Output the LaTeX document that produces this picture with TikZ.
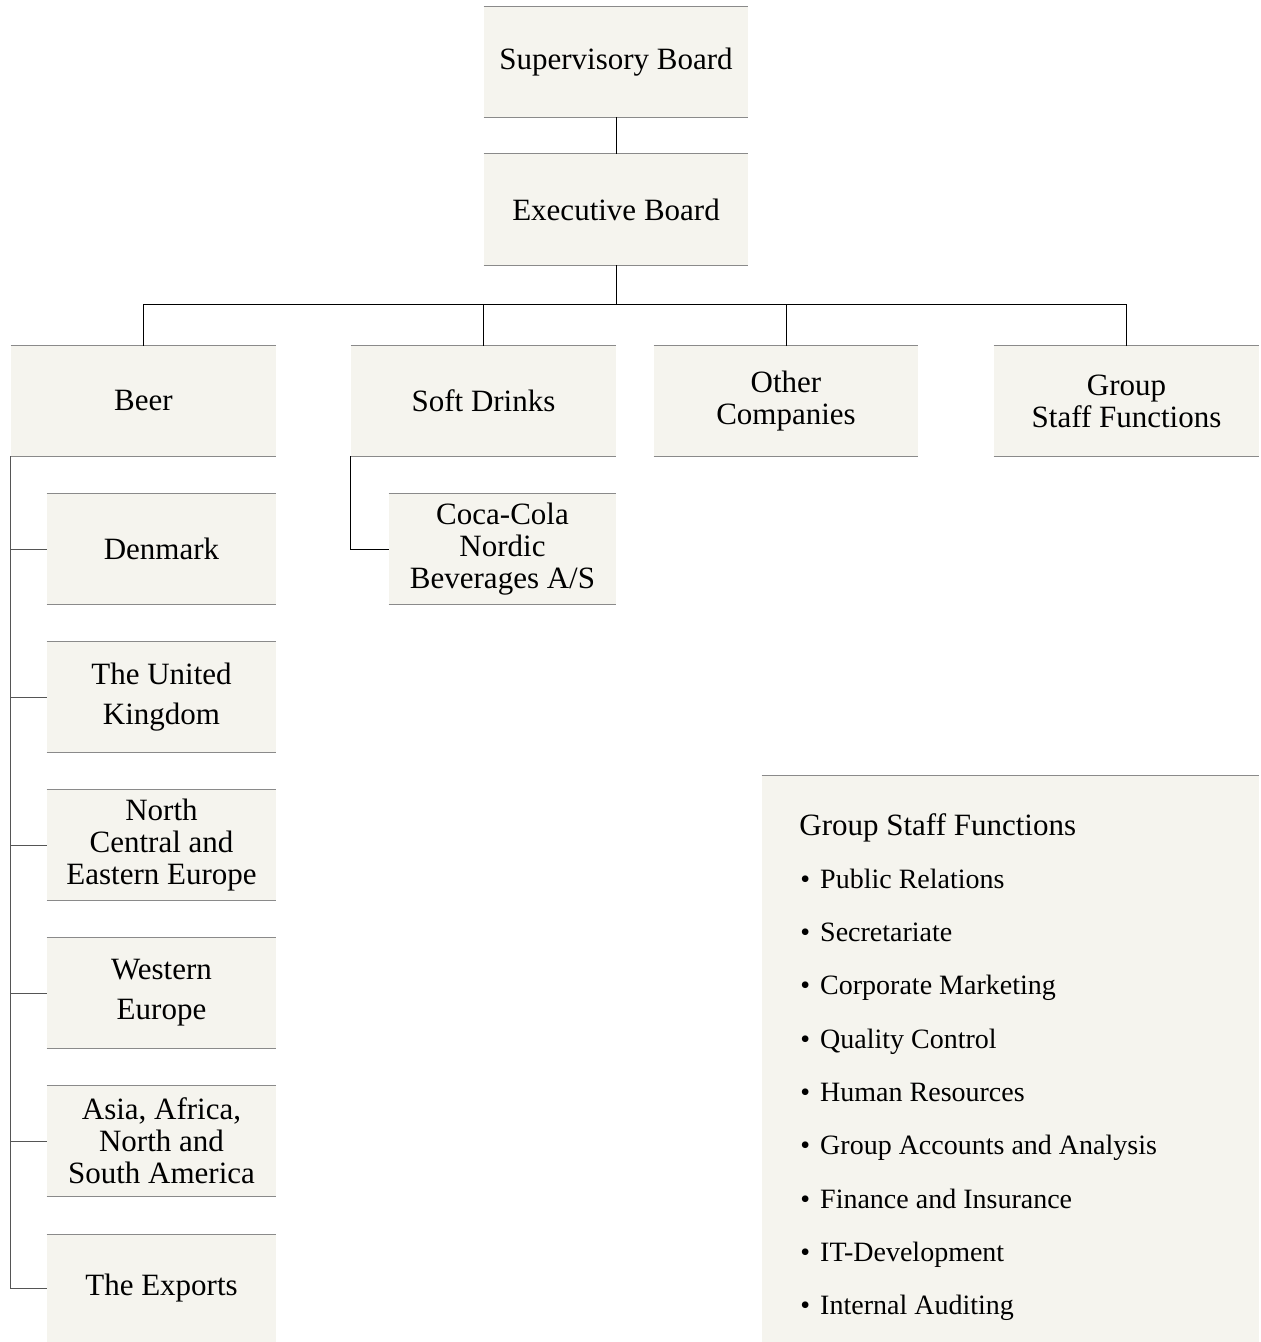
\documentclass[tikz,border=0pt]{standalone}
\usepackage{fontspec}
\setmainfont{Liberation Serif}
\definecolor{boxfill}{HTML}{F5F4EE}
\definecolor{boxrule}{HTML}{8A8A8A}
\definecolor{trunk}{HTML}{555555}
\newcommand{\bul}{•\hspace{5pt}}
\tikzset{
  orgbox/.style={rectangle, fill=boxfill, inner sep=0pt, align=center,
    font=\fontsize{15.5}{16}\selectfont},
  wide/.style={minimum width=132pt, minimum height=55pt},
  child/.style={minimum width=114.5pt, minimum height=55pt},
  loose/.style={font=\fontsize{15.5}{20}\selectfont},
  boxline/.style={draw=boxrule, line width=0.75pt},
  conn/.style={draw=black, line width=0.5pt},
  item/.style={anchor=base west, inner sep=0pt, font=\fontsize{14}{16}\selectfont},
}
\begin{document}
\begin{tikzpicture}[x=0.5pt,y=-0.5pt]
\useasboundingbox (0,0) rectangle (1261,1342);
% top level
\node[orgbox, wide] (sup) at (616,62) {Supervisory Board};
\node[orgbox, wide, minimum height=55.5pt] (exe) at (616,209.5) {Executive Board};
% divisions
\node[orgbox, wide, minimum width=132.5pt] (beer) at (143.5,401) {Beer};
\node[orgbox, wide, minimum width=132.5pt] (soft) at (483.5,401) {Soft Drinks};
\node[orgbox, wide] (other) at (786,401) {Other\\Companies};
\node[orgbox, wide, minimum width=132.5pt] (gsf) at (1126.5,401) {Group\\Staff Functions};
% beer children
\node[orgbox, child] (den) at (161.5,549) {Denmark};
\node[orgbox, child, loose] (uk) at (161.5,697) {The United\\Kingdom};
\node[orgbox, child] (ncee) at (161.5,845) {North\\Central and\\Eastern Europe};
\node[orgbox, child, loose] (we) at (161.5,993) {Western\\Europe};
\node[orgbox, child] (asia) at (161.5,1141) {Asia, Africa,\\North and\\South America};
\node[orgbox, child, minimum height=53.5pt] (exp) at (161.5,1288.5) {The Exports};
% soft drinks child
\node[orgbox, minimum width=113.5pt, minimum height=55pt] (coca) at (502.5,549) {Coca-Cola\\Nordic\\Beverages A/S};
% big box
\node[orgbox, minimum width=248.5pt, minimum height=283pt] (big) at (1010.5,1059) {};
\node[item, font=\fontsize{15.5}{16}\selectfont] (bigtitle) at (799,835) {Group Staff Functions};
\node[item] (i1) at (800,888) {\bul Public Relations};
\node[item] (i2) at (800,941.3) {\bul Secretariate};
\node[item] (i3) at (800,994.7) {\bul Corporate Marketing};
\node[item] (i4) at (800,1048) {\bul Quality Control};
\node[item] (i5) at (800,1101.3) {\bul Human Resources};
\node[item] (i6) at (800,1154.7) {\bul Group Accounts and Analysis};
\node[item] (i7) at (800,1208) {\bul Finance and Insurance};
\node[item] (i8) at (800,1261.3) {\bul IT-Development};
\node[item] (i9) at (800,1314.7) {\bul Internal Auditing};
% box rules (top and bottom)
\foreach \n in {sup,exe,beer,soft,other,gsf,den,uk,ncee,we,asia,coca}
  \draw[boxline] (\n.north west) -- (\n.north east) (\n.south west) -- (\n.south east);
\foreach \n in {exp,big}
  \draw[boxline] (\n.north west) -- (\n.north east);
% connectors
\coordinate (bus) at (616,305);
\draw[conn] (sup.south) -- (exe.north);
\draw[conn] (exe.south) -- (bus);
\foreach \n in {beer,soft,other,gsf}
  \draw[conn] (\n.north) |- (bus);
\foreach \n in {den,uk,ncee,we,asia,exp}
  \draw[conn, draw=trunk] (beer.south west) |- (\n.west);
\draw[conn] (soft.south west) |- (coca.west);
\end{tikzpicture}
\end{document}
